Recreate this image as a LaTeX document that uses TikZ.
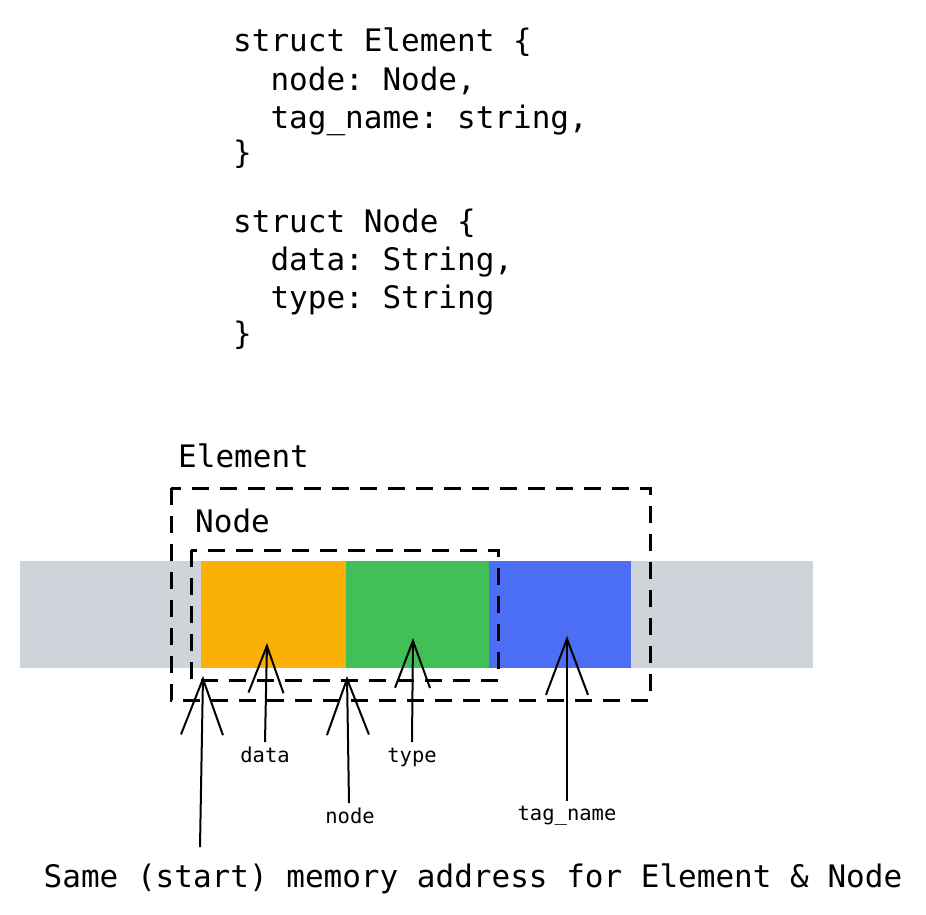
\documentclass[tikz,border=0pt]{standalone}
\usepackage{fontspec}
\setmonofont{DejaVu Sans Mono}
\usetikzlibrary{arrows.meta}
\definecolor{cgray}{HTML}{CFD4DB}
\definecolor{corange}{HTML}{FAB005}
\definecolor{cgreen}{HTML}{40C057}
\definecolor{cblue}{HTML}{4C6EF5}
\tikzset{
  code/.style={anchor=base west, inner sep=0pt, font=\fontsize{31}{37}\selectfont\ttfamily},
  big/.style={anchor=base, inner sep=0pt, font=\fontsize{31}{37}\selectfont\ttfamily},
  small/.style={anchor=base, inner sep=0pt, font=\fontsize{20.5}{24}\selectfont\ttfamily},
  box/.style={draw=black, line width=3pt, dash pattern=on 17pt off 11pt},
  ptr/.style={line width=2pt, -{Straight Barb[length=56pt,width=42pt,line width=2pt]}},
  sptr/.style={line width=2pt, -{Straight Barb[length=47pt,width=35pt,line width=2pt]}}
}
\begin{document}
\begin{tikzpicture}[x=1pt,y=-1pt]
\useasboundingbox (0,0) rectangle (926,914);
% code
\node[code] (l1) at (233,51) {struct Element \{};
\node[code] (l2) at (233,90) {\ \ node: Node,};
\node[code] (l3) at (233,128) {\ \ tag\_name: string,};
\node[code] (l4) at (233,163) {\}};
\node[code] (l5) at (233,232) {struct Node \{};
\node[code] (l6) at (233,270) {\ \ data: String,};
\node[code] (l7) at (233,308) {\ \ type: String};
\node[code] (l8) at (233,344) {\}};
% memory bar
\fill[cgray] (20,561) rectangle (813,668);
\fill[corange] (201,561) rectangle (346,668);
\fill[cgreen] (346,561) rectangle (489,668);
\fill[cblue] (489,561) rectangle (631,668);
% boxes
\draw[box] (171,488) rectangle (650,700);
\draw[box] (191,550) rectangle (498,680);
\node[code] (elem) at (178,467) {Element};
\node[code] (nodel) at (195,532) {Node};
% labels
\node[small] (ldata) at (265,762) {data};
\node[small] (ltype) at (412,762) {type};
\node[small] (lnode) at (350,823) {node};
\node[small] (ltag) at (567,820) {tag\_name};
\node[big] (lsame) at (473,887) {Same (start) memory address for Element \& Node};
% arrow ends
\coordinate (sStart) at (200,847);
\coordinate (hStart) at (203,676);
\coordinate (sData) at (265,742);
\coordinate (hData) at (267,643);
\coordinate (sNode) at (349,803);
\coordinate (hNode) at (347,676);
\coordinate (sType) at (412,742);
\coordinate (hType) at (413,638);
\coordinate (sTag) at (567,801);
\coordinate (hTag) at (567,636);
\draw[ptr] (sStart) -- (hStart);
\draw[sptr] (sData) -- (hData);
\draw[ptr] (sNode) -- (hNode);
\draw[sptr] (sType) -- (hType);
\draw[ptr] (sTag) -- (hTag);
\end{tikzpicture}
\end{document}
